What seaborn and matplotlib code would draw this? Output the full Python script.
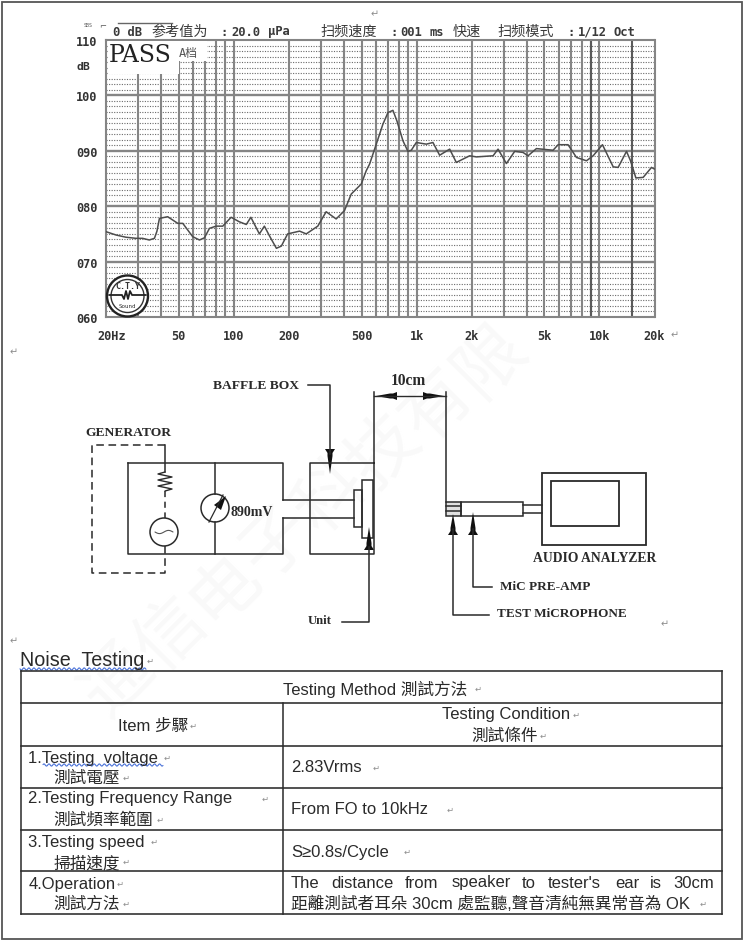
import numpy as np
import pandas as pd
import matplotlib
matplotlib.use("Agg")
import matplotlib.pyplot as plt
from matplotlib.patches import Rectangle, Circle, Polygon
from matplotlib.transforms import ScaledTranslation
import seaborn as sns

# ---------- data ----------
freq_hz = [20, 22.7, 25.7, 29.2, 31.7, 34.5, 36.8, 38.0, 39.2, 43.5, 49.4, 52.6, 59.6, 64.9, 69.1,
           73.6, 80, 87, 96.7, 107, 117, 124, 138, 147, 157, 171, 182, 197, 229, 249, 288, 320,
           363, 403, 439, 498, 530, 553, 589, 654, 697, 742, 780, 842, 896, 935, 996, 1130, 1228,
           1336, 1516, 1648, 1950, 2122, 2620, 2788, 3098, 3438, 3820, 4066, 4520, 5574, 5944,
           6734, 7486, 8490, 9234, 10385, 11890, 12650, 14060, 14790, 15820, 17340, 19260, 20000]
level_db = [75.4, 74.8, 74.4, 74.2, 74.2, 73.9, 74.2, 75.5, 77.8, 78.1, 76.9, 76.9, 74.5, 73.9, 74.3,
            76, 76.4, 76.4, 78, 77.2, 76.7, 78, 75, 76.4, 74.6, 72.4, 72.8, 75, 75.5, 75, 76.4, 79,
            77.7, 79.2, 82.2, 84, 86.4, 87.6, 90.3, 94.8, 96.9, 97.3, 95.4, 91.8, 89.9, 90.1, 91.5, 91.2, 91.5,
            89.2, 90.3, 87.9, 89.1, 88.9, 89.1, 90.3, 87.7, 89.9, 89.7, 89.1, 90.4, 90.1, 91.1,
            91.1, 88.8, 88.2, 89.1, 91.1, 87.1, 87, 89.9, 88.2, 85.1, 85.2, 87, 86.7]
x_ticks = [20, 50, 100, 200, 500, 1000, 2000, 5000, 10000, 20000]
x_labels = ["20Hz", "50", "100", "200", "500", "1k", "2k", "5k", "10k", "20k"]
y_ticks = [60, 70, 80, 90, 100, 110]
y_labels = ["060", "070", "080", "090", "100", "110"]
v_grid = [30, 40, 50, 60, 70, 80, 90, 100, 200, 300, 400, 500, 600, 700, 800, 900, 1000,
          2000, 3000, 4000, 5000, 6000, 7000, 8000, 9000, 10000]
v_grid_dark = [9000, 15000]
h_minor = [v for v in range(61, 110) if v % 10]
header_latin = [("0 dB", 113), (":", 220), ("20.0", 231), ("μPa", 268), (":", 390), ("001", 400),
                ("ms", 430), (":", 567), ("1/12", 578), ("Oct", 613)]
header_cjk = [("参考值为", 151), ("扫频速度", 320), ("快速", 453), ("扫频模式", 497)]

table_title = "Testing Method 測試方法"
item_head = "Item 步驟"
cond_head = ["Testing Condition", "測試條件"]
items = [("1.Testing  voltage", "測試電壓"), ("2.Testing Frequency Range", "測試頻率範圍"),
         ("3.Testing speed", "掃描速度"), ("4.Operation", "測試方法")]
conds = ["2.83Vrms", "From FO to 10kHz", "S≥0.8s/Cycle"]
cond4_words = ["The", "distance", "from", "speaker", "to", "tester's", "ear", "is", "30cm"]
cond4_line2 = "距離測試者耳朵 30cm 處監聽,聲音清純無異常音為 OK"
watermark = ["通", "信", "电", "子", "科", "技", "有", "限"]

sns.set_theme(style="white")
W, H = 749, 945
fig = plt.figure(figsize=(W / 100, H / 100), dpi=100, facecolor="white")

MONO = ["DejaVu Sans Mono", "Noto Sans CJK SC"]
SERIF = ["Liberation Serif"]
SANS = ["Liberation Sans", "Noto Sans CJK TC"]
GRID = "#858585"
INK = "#2a2a2a"

# ---------- page behind the chart ----------
bg = fig.add_axes([0, 0, 1, 1], zorder=0)
bg.set_xlim(0, W); bg.set_ylim(H, 0); bg.axis("off")
bg.add_patch(Rectangle((2, 3), 740, 937, fill=False, ec="#555555", lw=1.3))
wm_x = [118, 171, 224, 277, 330, 384, 437, 490]
wm_y = [680, 634, 588, 542, 497, 451, 406, 360]
for ch, x, y in zip(watermark, wm_x, wm_y):
    bg.text(x, y, ch, rotation=45, fontsize=50, color="#f9f9f9", ha="center", va="center",
            family=["Noto Sans CJK SC"])

# ---------- response chart ----------
L, R, T, B = 106, 654.5, 41, 318
ax = fig.add_axes([L / W, 1 - B / H, (R - L) / W, (B - T) / H], zorder=1)
ax.patch.set_alpha(0)
df = pd.DataFrame({"freq": freq_hz, "db": level_db})
ax.set_xscale("log")
ax.set_xlim(20, 20000); ax.set_ylim(60, 110)
ax.hlines(h_minor, 20, 20000, color="#6a6a6a", lw=0.8, linestyles=[(0, (1, 1.3))], zorder=1)
ax.hlines(y_ticks[1:-1], 20, 20000, color=GRID, lw=1.7, zorder=2)
ax.vlines(v_grid, 60, 110, color=GRID, lw=1.5, zorder=2)
ax.vlines(v_grid_dark, 60, 110, color="#5a5a5a", lw=1.5, zorder=2)
sns.lineplot(data=df, x="freq", y="db", ax=ax, color="#4d4d4d", lw=1.1, zorder=3, legend=False)
ax.set_xlabel(""); ax.set_ylabel("")
ax.minorticks_off()
ax.set_xticks(x_ticks, x_labels, family=MONO, fontweight="bold", fontsize=8.6, color="#333333")
ax.set_yticks(y_ticks, y_labels, family=MONO, fontweight="bold", fontsize=8.6, color="#333333")
ax.tick_params(length=0)
ax.tick_params(axis="x", pad=8.5)
ax.tick_params(axis="y", pad=6)
first = ax.get_xticklabels()[0]
first.set_transform(first.get_transform() + ScaledTranslation(6 / 100, 0, fig.dpi_scale_trans))
for s in ax.spines.values():
    s.set_color(GRID); s.set_linewidth(1.5)

# ---------- everything else, in image pixels ----------
ov = fig.add_axes([0, 0, 1, 1], zorder=2)
ov.set_xlim(0, W); ov.set_ylim(H, 0); ov.axis("off"); ov.patch.set_alpha(0)

def line(xs, ys, lw=1.1, c=INK, **kw):
    ov.plot(xs, ys, color=c, lw=lw, solid_capstyle="projecting", **kw)

def rect(x0, y0, x1, y1, lw=1.1, c=INK, fc="none"):
    ov.add_patch(Rectangle((x0, y0), x1 - x0, y1 - y0, fill=fc != "none", fc=fc, ec=c, lw=lw))

def arrow(x, tip, end):
    """vertical arrowhead: sharp tip at `tip`, wide base at `end`"""
    d = 1 if end > tip else -1
    ov.add_patch(Polygon([(x, tip), (x + 2.5, end - d * 7), (x + 2.5, end - d * 4), (x + 5, end),
                          (x - 5, end), (x - 2.5, end - d * 4), (x - 2.5, end - d * 7)],
                         fc="#111111", ec="none"))

def harrow(tip, end, y):
    d = 1 if end > tip else -1
    ov.add_patch(Polygon([(tip, y), (end - d * 7, y - 2.5), (end - d * 4, y - 2.5), (end, y - 4),
                          (end, y + 4), (end - d * 4, y + 2.5), (end - d * 7, y + 2.5)],
                         fc="#111111", ec="none"))

def ret(x, y, size=6):
    ov.text(x, y, "↵", fontsize=size, color="#8c8c8c", ha="center", va="center", family=["DejaVu Sans"])

def wavy(x0, x1, y):
    xs = np.arange(x0, x1 + 0.5, 0.5)
    ov.plot(xs, y + 1.1 * np.sin(xs * 1.25), color="#4a72d8", lw=0.8)

# chart header and margin text
for txt, x in header_latin:
    ov.text(x, 32, txt, family=MONO, fontsize=8.7, fontweight="bold", color="#3a3a3a", va="center", ha="left")
for txt, x in header_cjk:
    ov.text(x, 32, txt, family=MONO, fontsize=10.2, color="#3a3a3a", va="center", ha="left")
ov.text(88.5, 25.5, "SBS", family=MONO, fontsize=3.6, color="#555555", ha="center", va="center")
ov.text(103, 27, "⌐", family=["DejaVu Sans"], fontsize=6, color="#555555", ha="center", va="center")
line([118, 172], [24, 24], lw=1.0, c="#666666")
ov.text(83, 67, "dB", family=MONO, fontsize=8.2, fontweight="bold", color="#333333", ha="center", va="center")
# PASS stamp
rect(107.5, 42, 179, 75, lw=0, c="white", fc="white")
rect(179, 42, 207, 62, lw=0, c="white", fc="white")
ov.text(108.5, 55.5, "PASS", family=["DejaVu Serif"], fontsize=17, color="#222222", ha="left", va="center")
ov.text(178.5, 54, "A档", family=MONO, fontsize=8.6, color="#555555", ha="left", va="center")
# logo stamp
ov.add_patch(Circle((127.5, 297), 20.5, fill=True, fc="white", ec="#222222", lw=1.7))
ov.add_patch(Circle((127.5, 297), 16.5, fill=False, ec="#333333", lw=1.0))
ov.plot([109, 122, 124, 126, 128, 130, 132, 146], [296, 296, 300, 292, 300, 292, 296, 296], color="#222222", lw=1.3)
ov.text(127.5, 286.5, "C.T.Y", family=MONO, fontsize=6, fontweight="bold", color="#333333", ha="center", va="center")
ov.text(127.5, 307, "Sound", family=MONO, fontsize=4.2, color="#333333", ha="center", va="center")

# measurement diagram
bold = dict(family=SERIF, fontweight="bold", color="#2a2a2a", va="center")
ov.text(256, 386, "BAFFLE BOX", fontsize=9.7, ha="center", **bold)
ov.text(128, 433, "GENERATOR", fontsize=9.7, ha="center", **bold)
ov.text(252, 512, "890mV", fontsize=10, ha="center", **bold)
ov.text(408, 381, "10cm", fontsize=11.2, ha="center", **bold)
ov.text(320, 621, "Unit", fontsize=9.2, ha="center", **bold)
ov.text(595, 559, "AUDIO ANALYZER", fontsize=9.8, ha="center", **bold)
ov.text(545, 587, "MiC PRE-AMP", fontsize=9.5, ha="center", **bold)
ov.text(562, 614, "TEST MiCROPHONE", fontsize=9.5, ha="center", **bold)

line([308, 330, 330], [386, 386, 455])
arrow(330, 475, 450)
# generator
ov.plot([165, 92, 92, 165, 165], [446, 446, 574, 574, 547], color=INK, lw=1.1, ls=(0, (5, 3)))
ov.plot([165, 165], [492, 519], color=INK, lw=1.1, ls=(0, (4, 3)))
line([165, 165], [446, 473])
zx = [165, 158, 172, 158, 172, 158, 172, 165]
zy = [473, 475, 478, 481, 484, 487, 490, 492]
ov.plot(zx, zy, color=INK, lw=1.0)
ov.add_patch(Circle((164, 533), 14, fill=False, ec=INK, lw=1.1))
sx = np.linspace(155, 173, 40)
ov.plot(sx, 533 + 1.6 * np.sin((sx - 155) / 18 * 2 * np.pi), color="#555555", lw=0.8)
line([128, 283, 283], [464, 464, 501])
line([128, 128, 283, 283], [464, 555, 555, 519])
line([215, 215], [464, 495]); line([215, 215], [523, 555])
ov.add_patch(Circle((215, 509), 14, fill=False, ec=INK, lw=1.1))
line([209, 223], [523, 496], lw=0.9)
ov.add_patch(Polygon([(226, 497), (214, 506), (221, 511)], fc="#111111", ec="none"))
line([283, 354], [501, 501]); line([283, 354], [519, 519])
# baffle
line([374, 310, 310, 374, 374], [464, 464, 555, 555, 393])
rect(354, 491, 362, 528); rect(362, 481, 373, 539)
line([342, 369, 369], [623, 623, 548])
arrow(369, 528, 551)
# dimension
line([446, 446], [393, 503])
line([374, 446], [397, 397], lw=1.0)
harrow(376, 397, 397); harrow(444, 423, 397)
# microphone and analyzer
rect(446, 503, 461, 517); line([446, 461], [507, 507]); line([446, 461], [512, 512])
ov.add_patch(Rectangle((446, 503), 15, 14, fc="#333333", ec="none", alpha=0.15))
rect(461, 503, 523, 517)
line([523, 542], [506, 506]); line([523, 542], [514, 514])
rect(542, 474, 646, 546, lw=1.3); rect(551, 482, 619, 527, lw=1.3)
line([489, 453, 453], [616, 616, 530]); arrow(453, 515, 536)
line([492, 473, 473], [588, 588, 530]); arrow(473, 513, 536)

# paragraph marks around the sheet
for px, py in [(375, 14), (675, 335), (14, 352), (665, 624), (14, 641)]:
    ret(px, py, 7)

# table
ov.text(19.5, 661, "Noise  Testing", family=SANS, fontsize=14.2, color="#2a2a2a", ha="left", va="center")
ret(150, 661, 6)
wavy(20, 146, 670)

rows = [672, 704, 747, 789, 831, 872, 915]
xl, xm, xr = 20.5, 283, 722
for y in rows:
    line([xl, xr], [y, y], lw=1.1, c="#222222")
line([xl, xl], [rows[0], rows[-1]]); line([xr, xr], [rows[0], rows[-1]])
line([xm, xm], [rows[1], rows[-1]])

t = dict(family=SANS, fontsize=12, color="#2a2a2a", va="center")
ov.text(375, 689, table_title, ha="center", **t); ret(478, 689)
ov.text(153.5, 726, item_head, ha="center", **t); ret(193, 726)
ov.text(506, 715, cond_head[0], ha="center", **t); ret(576, 715)
ov.text(505, 736, cond_head[1], ha="center", **t); ret(543, 736)
item_y = [(758, 778), (799, 820), (842, 863), (884, 904)]
for (en, zh), (y1, y2) in zip(items, item_y):
    ov.text(28.5, y1, en, ha="left", **t)
    ov.text(53, y2, zh, ha="left", **t)
wavy(43, 163, 766)
for x, y in [(167, 758), (265, 799), (154, 842), (120, 884), (126, 778), (160, 820), (126, 862), (126, 904)]:
    ret(x, y)
for txt, y, xe in zip(conds, [768, 810, 852], [376, 450, 407]):
    ov.text(291, y, txt, ha="left", **t)
    ret(xe, y)
# justified first line of the operation cell
cond_x = [291, 331, 405, 452, 522, 548, 615, 650, 673]
for w, x in zip(cond4_words, cond_x):
    ov.text(x, 883, w, ha="left", **t)
ov.text(291, 904, cond4_line2, ha="left", **t)
ret(703, 904)

fig.savefig("out.png", dpi=100, facecolor="white")
